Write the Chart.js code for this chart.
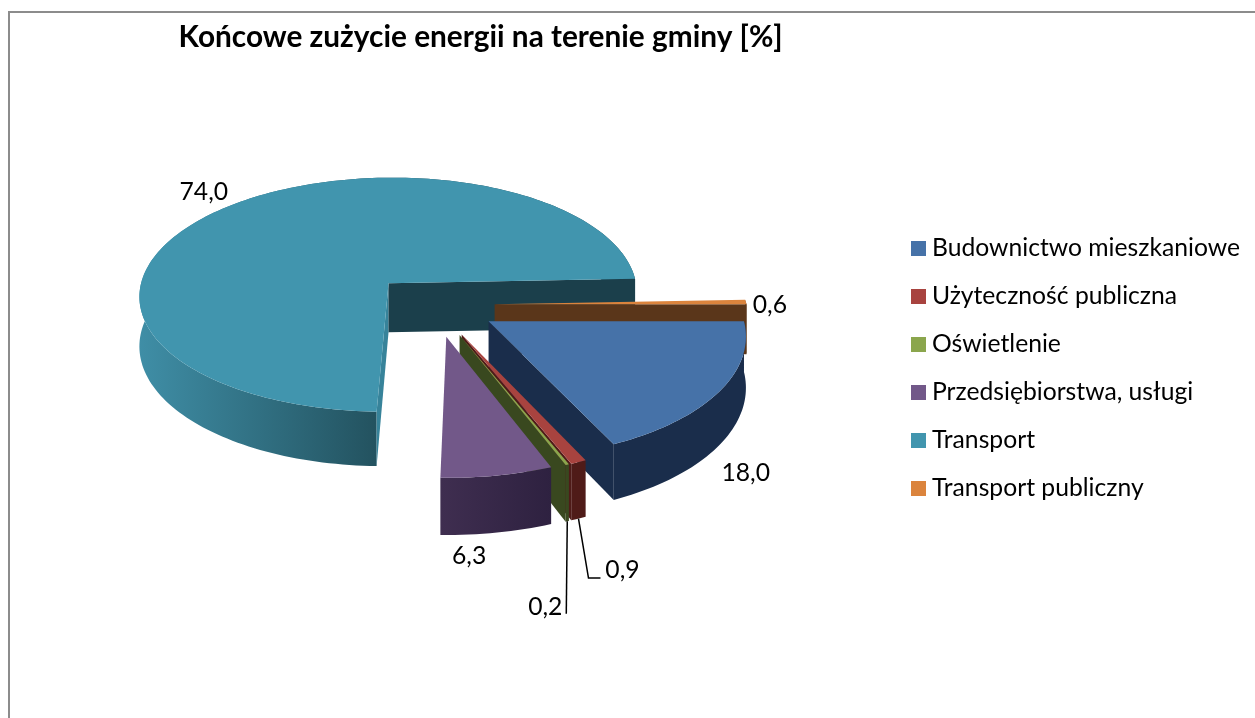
<!DOCTYPE html>
<html lang="pl">
<head>
<meta charset="utf-8">
<title>Końcowe zużycie energii na terenie gminy</title>
<script src="https://cdn.jsdelivr.net/npm/chart.js@4"></script>
<style>
  html, body { margin: 0; background: #fff; overflow: hidden; }
  #frame { position: absolute; left: 8px; top: 11px; right: 0; bottom: 0; border-left: 2px solid #8c8c8c; border-top: 2px solid #8c8c8c; }
  #myChart { position: absolute; left: 0; top: 0; }
</style>
</head>
<body>
<div id="frame"></div>
<canvas id="myChart" width="1255" height="718"></canvas>
<script>
const labels = ["Budownictwo mieszkaniowe", "Użyteczność publiczna", "Oświetlenie", "Przedsiębiorstwa, usługi", "Transport", "Transport publiczny"];
const values = [18.0, 0.9, 0.2, 6.3, 74.0, 0.6];
const valueLabels = ["18,0", "0,9", "0,2", "6,3", "74,0", "0,6"];

const topColors = ["#4672a8", "#a8433f", "#8ba64d", "#725889", "#4195ae", "#db843d"];
const sideFrom = ["#1a2d4b", "#4f1b18", "#39481f", "#3f2e50", "#3f8ea6", "#5a361a"];
const sideTo = ["#1a2d4b", "#4f1b18", "#39481f", "#2e2140", "#23525f", "#5a361a"];
const cutStart = ["#1a2d4b", "#4f1b18", "#39481f", "#3f2e50", "#37839a", "#5a361a"];
const cutEnd = ["#1a2d4b", "#4f1b18", "#39481f", "#3f2e50", "#1b3f4b", "#5a361a"];
const explode = [63, 66, 66, 66, 66, 60];
// label position relative to the outer middle of each slice
const labelShift = [[26, 82], [44, 108], [-22, 142], [-28, 81], [-23, -15], [24, 3]];

const camera = { shiftX: -46, shiftY: -86, perspective: 0.1, tilt: 0.477, depth: 50 };

// world position on the pie plane -> screen
function project(arc, wx, wy, z) {
  const f = 1 / (1 - camera.perspective * wy / arc.outerRadius);
  return {
    x: arc.x + camera.shiftX + wx * f,
    y: arc.y + camera.shiftY + (camera.tilt * wy + z) * f,
  };
}

function apex(arc) {
  const mid = (arc.startAngle + arc.endAngle) / 2;
  return { x: Math.cos(mid) * arc.options.offset, y: Math.sin(mid) * arc.options.offset };
}

function rim(arc, angle, z) {
  const a = apex(arc);
  return project(arc, a.x + Math.cos(angle) * arc.outerRadius, a.y + Math.sin(angle) * arc.outerRadius, z);
}

function rimAngles(arc) {
  const steps = Math.max(2, Math.ceil((arc.endAngle - arc.startAngle) * 40));
  const out = [];
  for (let i = 0; i <= steps; i++) out.push(arc.startAngle + (arc.endAngle - arc.startAngle) * i / steps);
  return out;
}

function fillPoly(ctx, pts, fill) {
  ctx.beginPath();
  pts.forEach((p, i) => (i ? ctx.lineTo(p.x, p.y) : ctx.moveTo(p.x, p.y)));
  ctx.closePath();
  ctx.fillStyle = fill;
  ctx.fill();
}

// cut face of a slice, skipped when it looks away from the camera
function drawWall(ctx, arc, angle, side, fill) {
  const a = apex(arc);
  const nx = side * Math.sin(angle);
  const ny = -side * Math.cos(angle);
  const camY = arc.outerRadius / camera.perspective;
  if (nx * -a.x + ny * (camY - a.y) <= 0) return;
  fillPoly(ctx, [project(arc, a.x, a.y, 0), rim(arc, angle, 0), rim(arc, angle, camera.depth), project(arc, a.x, a.y, camera.depth)], fill);
}

function drawSlice(ctx, arc, i) {
  const angles = rimAngles(arc);
  const a = apex(arc);

  // outer wall, shaded over the part that faces the viewer
  const front = angles.filter((t) => t <= Math.PI).map((t) => rim(arc, t, 0).x);
  const xs = front.length ? front : angles.map((t) => rim(arc, t, 0).x);
  const grad = ctx.createLinearGradient(Math.min(...xs), 0, Math.max(...xs) + 1, 0);
  grad.addColorStop(0, sideFrom[i]);
  grad.addColorStop(1, sideTo[i]);
  const upper = angles.map((t) => rim(arc, t, 0));
  const lower = angles.map((t) => rim(arc, t, camera.depth)).reverse();
  fillPoly(ctx, upper.concat(lower), grad);

  drawWall(ctx, arc, arc.startAngle, 1, cutStart[i]);
  drawWall(ctx, arc, arc.endAngle, -1, cutEnd[i]);
  fillPoly(ctx, [project(arc, a.x, a.y, 0)].concat(upper), topColors[i]);
}

const pie3d = {
  id: "pie3d",
  beforeDatasetDraw(chart, args) {
    const ctx = chart.ctx;
    const arcs = args.meta.data.map((arc, i) => ({ arc, i }));
    arcs.sort((p, q) => apex(p.arc).y - apex(q.arc).y);
    arcs.forEach(({ arc, i }) => drawSlice(ctx, arc, i));
    return false;
  },
  afterDraw(chart) {
    const ctx = chart.ctx;
    ctx.save();
    ctx.font = "24.7px Lato";
    ctx.fillStyle = "#000";
    ctx.strokeStyle = "#000";
    ctx.lineWidth = 1.5;
    ctx.textAlign = "center";
    ctx.textBaseline = "middle";
    chart.getDatasetMeta(0).data.forEach((arc, i) => {
      const mid = (arc.startAngle + arc.endAngle) / 2;
      const p = rim(arc, mid, 0);
      const x = p.x + labelShift[i][0];
      const y = p.y + labelShift[i][1];
      ctx.fillText(valueLabels[i], x, y);
      // leader lines for the two thinnest slices
      if (i === 1 || i === 2) {
        const from = rim(arc, mid, camera.depth);
        ctx.beginPath();
        ctx.moveTo(from.x, from.y);
        if (i === 1) {
          ctx.lineTo(x - 34, y + 8);
          ctx.lineTo(x - 22, y + 8);
        } else {
          ctx.lineTo(x + 21, y + 7);
        }
        ctx.stroke();
      }
    });
    ctx.restore();
  },
};

function swatch(color) {
  const c = document.createElement("canvas");
  c.width = 15;
  c.height = 15;
  const g = c.getContext("2d");
  g.fillStyle = color;
  g.fillRect(0, 0, 15, 15);
  return c;
}

const config = {
  type: "pie",
  data: {
    labels,
    datasets: [{ data: values, backgroundColor: topColors, borderWidth: 0, offset: explode }],
  },
  plugins: [pie3d],
  options: {
    responsive: false,
    animation: false,
    rotation: 90,
    radius: 252,
    layout: { padding: { left: 68, top: 18, right: 5 } },
    plugins: {
      tooltip: { enabled: false },
      title: {
        display: true,
        fullSize: false,
        text: "Końcowe zużycie energii na terenie gminy [%]",
        color: "#000",
        font: { family: "Lato", size: 29.8, weight: "bold" },
        padding: { top: 2, bottom: 8 },
      },
      legend: {
        position: "right",
        labels: {
          color: "#000",
          font: { family: "Lato", size: 24.7 },
          padding: 23.3,
          usePointStyle: true,
          pointStyleWidth: 3,
          generateLabels(chart) {
            const items = Chart.overrides.pie.plugins.legend.labels.generateLabels(chart);
            items.forEach((item) => { item.pointStyle = swatch(item.fillStyle); });
            return items;
          },
        },
      },
    },
  },
};

const myChart = new Chart(document.querySelector("#myChart"), config);
</script>
</body>
</html>
